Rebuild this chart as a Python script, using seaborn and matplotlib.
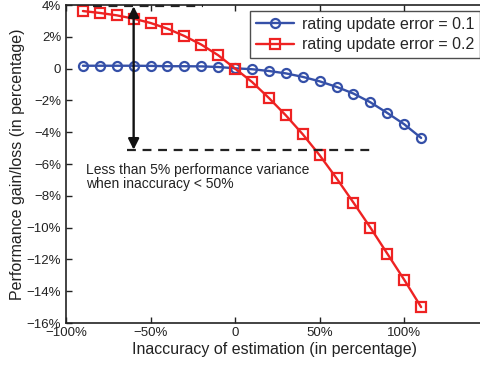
import numpy as np
import pandas as pd
import matplotlib
matplotlib.use('Agg')
import matplotlib.pyplot as plt
import seaborn as sns

# data
inaccuracy = [-90, -80, -70, -60, -50, -40, -30, -20, -10, 0, 10,
              20, 30, 40, 50, 60, 70, 80, 90, 100, 110]
err_01 = [0.18, 0.18, 0.18, 0.18, 0.17, 0.15, 0.15, 0.14, 0.1, 0.02, -0.04,
          -0.15, -0.3, -0.52, -0.8, -1.15, -1.57, -2.12, -2.79, -3.5, -4.36]
err_02 = [3.62, 3.5, 3.35, 3.14, 2.87, 2.51, 2.05, 1.51, 0.84, 0.0, -0.84,
          -1.85, -2.94, -4.13, -5.45, -6.9, -8.43, -10.0, -11.64, -13.28, -15.0]
series_labels = ['rating update error = 0.1', 'rating update error = 0.2']
xticks = [-100, -50, 0, 50, 100]
xticklabels = ['\u2212100%', '\u221250%', '0', '50%', '100%']
yticks = [4, 2, 0, -2, -4, -6, -8, -10, -12, -14, -16]
yticklabels = ['4%', '2%', '0', '\u22122%', '\u22124%', '\u22126%', '\u22128%',
               '\u221210%', '\u221212%', '\u221214%', '\u221216%']
note = 'Less than 5% performance variance\nwhen inaccuracy < 50%'

sns.set_style('ticks')
plt.rcParams['font.family'] = ['Liberation Sans', 'DejaVu Sans']

df = pd.DataFrame({'x': inaccuracy, 'a': err_01, 'b': err_02})

fig = plt.figure(figsize=(4.81, 3.66), dpi=100)
ax = fig.add_axes([66 / 481, 43 / 366, 416 / 481, 318 / 366])

blue = '#3550a8'
red = '#ee2222'
sns.lineplot(data=df, x='x', y='a', ax=ax, color=blue, marker='o', markersize=6.5,
             mfc='none', mec=blue, mew=1.6, lw=1.7, label=series_labels[0])
sns.lineplot(data=df, x='x', y='b', ax=ax, color=red, marker='s', markersize=6.5,
             mfc='none', mec=red, mew=1.6, lw=1.7, label=series_labels[1])

# annotation: dashed guides and double arrow
ax.plot([-84, -19], [3.96, 3.96], ls='--', color='#222222', lw=1.6,
        dashes=(4, 3), clip_on=False)
ax.plot([-64, 82], [-5.15, -5.15], ls='--', color='#222222', lw=1.6, dashes=(4, 3))
ax.annotate('', xy=(-60, -5.1), xytext=(-60, 3.92),
            arrowprops=dict(arrowstyle='<|-|>', color='#111111', lw=1.7,
                            mutation_scale=16, shrinkA=0, shrinkB=0))
ax.text(-88, -5.95, note, fontsize=10, va='top', ha='left', color='#222222',
        linespacing=1.0)

ax.set_xlim(-100, 146)
ax.set_ylim(-16, 4)
ax.set_xticks(xticks)
ax.set_xticklabels(xticklabels)
ax.set_yticks(yticks)
ax.set_yticklabels(yticklabels)
ax.tick_params(direction='in', top=True, right=False, labelsize=9.5,
               length=4, width=1, colors='#222222', labelcolor='#222222')
ax.tick_params(axis='x', pad=3)
for s in ax.spines.values():
    s.set_color('#222222')
    s.set_linewidth(1.2)
ax.spines['right'].set_visible(False)

ax.set_xlabel('Inaccuracy of estimation (in percentage)', fontsize=11.5,
              color='#222222', labelpad=2)
ax.set_ylabel('Performance gain/loss (in percentage)', fontsize=11.5,
              color='#222222', labelpad=1)

leg = ax.legend(loc='upper right', bbox_to_anchor=(480 / 481, 1 - 11 / 366),
                bbox_transform=fig.transFigure, borderaxespad=0, fontsize=11.5,
                frameon=True, fancybox=False, edgecolor='#222222',
                handlelength=2.4, borderpad=0.35, labelspacing=0.35,
                handletextpad=0.5)
leg.get_frame().set_linewidth(1.0)

fig.savefig('out.png', dpi=100)
